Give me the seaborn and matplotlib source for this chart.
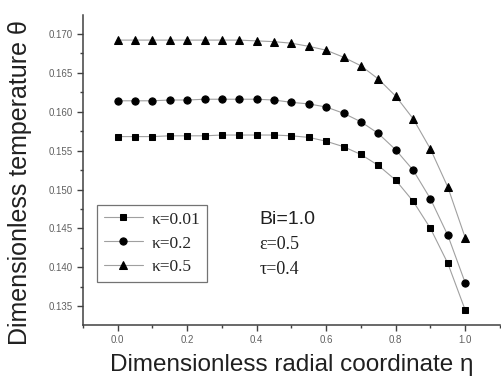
import numpy as np
import pandas as pd
import matplotlib
matplotlib.use("Agg")
import matplotlib.pyplot as plt
import seaborn as sns
from matplotlib.ticker import MultipleLocator, FormatStrFormatter

sns.set_style("ticks")
plt.rcParams["font.family"] = ["Liberation Sans", "DejaVu Sans"]

eta = [0.0, 0.05, 0.1, 0.15, 0.2, 0.25, 0.3, 0.35, 0.4, 0.45,
       0.5, 0.55, 0.6, 0.65, 0.7, 0.75, 0.8, 0.85, 0.9, 0.95, 1.0]

theta_k001 = [0.1568, 0.1568, 0.1568, 0.1569, 0.1569, 0.1569, 0.1570, 0.1570, 0.1570, 0.1570,
              0.1569, 0.1567, 0.1562, 0.1555, 0.1545, 0.1531, 0.1512, 0.1485, 0.1450, 0.1405, 0.1345]
theta_k02 = [0.1614, 0.1614, 0.1614, 0.1615, 0.1615, 0.1616, 0.1616, 0.1616, 0.1616, 0.1615,
             0.1612, 0.1610, 0.1606, 0.1598, 0.1587, 0.1572, 0.1551, 0.1525, 0.1488, 0.1441, 0.1380]
theta_k05 = [0.1692, 0.1692, 0.1692, 0.1692, 0.1692, 0.1692, 0.1692, 0.1692, 0.1691, 0.1690,
             0.1688, 0.1684, 0.1679, 0.1670, 0.1659, 0.1642, 0.1620, 0.1591, 0.1552, 0.1503, 0.1438]

labels = ["κ=0.01", "κ=0.2", "κ=0.5"]
markers = ["s", "o", "^"]
msizes = [4.6, 5.2, 5.4]

fig, ax = plt.subplots(figsize=(5.02, 3.8), dpi=100)
fig.subplots_adjust(left=0.165, right=0.996, bottom=0.145, top=0.96)

for theta, lab, mk, ms in zip([theta_k001, theta_k02, theta_k05], labels, markers, msizes):
    df = pd.DataFrame({"eta": eta, "theta": theta})
    sns.lineplot(data=df, x="eta", y="theta", ax=ax, color="#a0a0a0", lw=0.8,
                 marker=mk, markersize=ms,
                 markerfacecolor="black", markeredgecolor="black", label=lab)

ax.set_xlim(-0.1, 1.1)
ax.set_ylim(0.1326, 0.1724)
ax.xaxis.set_major_locator(MultipleLocator(0.2))
ax.xaxis.set_minor_locator(MultipleLocator(0.1))
ax.yaxis.set_major_locator(MultipleLocator(0.005))
ax.yaxis.set_minor_locator(MultipleLocator(0.0025))
ax.xaxis.set_major_formatter(FormatStrFormatter("%.1f"))
ax.yaxis.set_major_formatter(FormatStrFormatter("%.3f"))
ax.tick_params(axis="both", which="major", labelsize=7, length=4, width=1,
               color="#404040", labelcolor="#606060", direction="out")
ax.tick_params(axis="both", which="minor", length=2.5, width=1, color="#404040", direction="out")

sns.despine(ax=ax)
for s in ["left", "bottom"]:
    ax.spines[s].set_color("#404040")
    ax.spines[s].set_linewidth(1.1)

ax.set_xlabel("Dimensionless radial coordinate η", fontsize=17.5, color="#202020", labelpad=6)
ax.set_ylabel("Dimensionless temperature θ", fontsize=18, color="#202020")
ax.yaxis.set_label_coords(-0.123, 0.46)

leg = ax.legend(loc="lower left", bbox_to_anchor=(0.035, 0.14), frameon=True, fancybox=False,
                edgecolor="#505050", prop={"family": "Liberation Serif", "size": 12.5},
                handlelength=2.3, handletextpad=0.5, borderpad=0.35, labelspacing=0.45,
                borderaxespad=0)
leg.get_frame().set_linewidth(0.9)

ax.text(0.424, 0.326, "Bi=1.0", transform=ax.transAxes, fontsize=14, color="#202020",
        va="baseline")
ax.text(0.424, 0.245, "ε=0.5", transform=ax.transAxes, fontsize=13,
        family="Liberation Serif", color="#202020", va="baseline")
ax.text(0.424, 0.165, "τ=0.4", transform=ax.transAxes, fontsize=13,
        family="Liberation Serif", color="#202020", va="baseline")

fig.savefig("out.png", dpi=100)
